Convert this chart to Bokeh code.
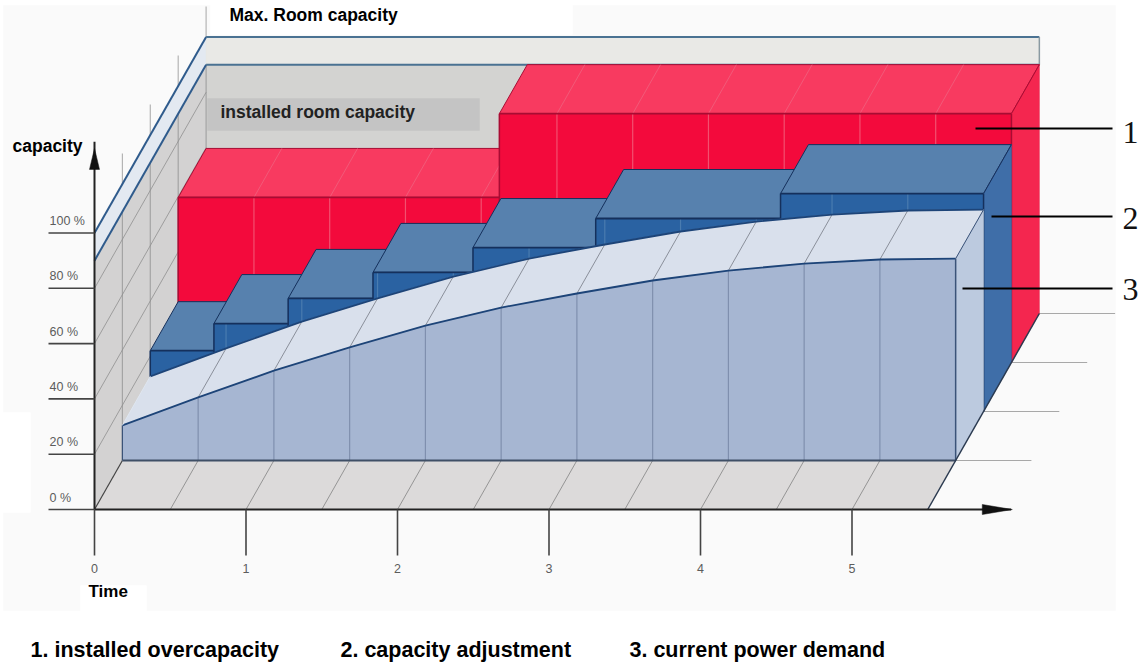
from bokeh.plotting import figure
from bokeh.models import Range1d
from bokeh.core.properties import value
from bokeh.embed import file_html
from bokeh.resources import INLINE

# ---- data ----
time_ticks = [0, 1, 2, 3, 4, 5]
capacity_ticks = [0, 20, 40, 60, 80, 100]
capacity_labels = ["0 %", "20 %", "40 %", "60 %", "80 %", "100 %"]
grid_times = [0, .5, 1, 1.5, 2, 2.5, 3, 3.5, 4, 4.5, 5, 5.5]
demand = [12.7, 22.8, 32.5, 40.9, 48.8, 55.3, 60.4, 65.1, 68.7, 71.2, 72.7, 73.0]
adjust_edges = [0, .42, .91, 1.47, 2.13, 2.94, 4.16, 5.5]
adjust_levels = [22, 31.8, 40.9, 50.3, 59.3, 69.8, 78.8]
installed_edges = [0, 2.12, 5.5]
installed_levels = [59.7, 90]
installed_room = 90
max_room = 100
t_end = 5.5

X0, Y0, KT, KD, KC, DY = 94, 509, 151.5, 27.9, 2.765, 49


def P(t, c, d):
    return X0 + KT * t + KD * d, Y0 - KC * c - DY * d


p = figure(width=1141, height=664, x_range=Range1d(0, 1141), y_range=Range1d(664, 0),
           toolbar_location=None, output_backend="svg", min_border=0,
           background_fill_color="white", border_fill_color="white", outline_line_color=None)
p.axis.visible = False
p.grid.visible = False


def poly(points, fill, line=None, lw=1, alpha=1.0):
    p.patch([a for a, _ in points], [b for _, b in points], fill_color=fill, fill_alpha=alpha,
            line_color=line if line else fill, line_width=lw if line else 0.5)


def seg(a, b, color, lw=1, alpha=1.0):
    p.line([a[0], b[0]], [a[1], b[1]], line_color=color, line_width=lw, line_alpha=alpha)


def txt(x, y, s, size, color="black", bold=True, align="left", font="Liberation Sans"):
    p.text([x], [y], text=[s], text_font=value(font), text_font_size=value(size),
           text_font_style="bold" if bold else "normal", text_color=color,
           text_align=align, text_baseline="middle")


# page-like backdrop of the scanned picture
poly([(3, 5), (1115, 5), (1115, 610), (3, 610)], "#fafafa")
poly([(210, 0), (572, 0), (572, 34), (210, 34)], "#ffffff")
poly([(80, 585), (146, 585), (146, 612), (80, 612)], "#ffffff")
poly([(0, 412), (30, 412), (30, 512), (0, 512)], "#ffffff")

# verticals rising from the depth lines
for d in [1, 2, 3, 4]:
    seg(P(0, 0, d), P(0, 111, d), "#b4b4b4", 1.2)

# side wall and back wall
poly([P(0, 0, 0), P(0, installed_room, 0), P(0, installed_room, 4), P(0, 0, 4)], "#d3d2d2")
poly([P(0, installed_room, 0), P(0, max_room, 0), P(0, max_room, 4), P(0, installed_room, 4)], "#e3e9f1")
poly([P(0, 0, 4), P(0, installed_room, 4), P(t_end, installed_room, 4), P(t_end, 0, 4)], "#d3d3d1")
poly([P(0, installed_room, 4), P(0, max_room, 4), P(t_end, max_room, 4), P(t_end, installed_room, 4)], "#e9e9e6")
poly([(207, 98), (479, 98), (479, 130), (207, 130)], "#c4c4c4")

for d in [1, 2, 3, 4]:
    seg(P(0, 0, d), P(0, installed_room, d), "#a4a4a4", 1.2)
for c in capacity_ticks[1:-1]:
    seg(P(0, c, 0), P(0, c, 4), "#8f8f8f", 0.8)

for c in [installed_room, max_room]:
    seg(P(0, c, 0), P(0, c, 4), "#2f5b8c", 2)
    seg(P(0, c, 4), P(t_end, c, 4), "#4a7292", 2)
seg(P(t_end, installed_room, 4), P(t_end, max_room, 4), "#8a9aa2", 1.5)

# floor
poly([P(0, 0, 0), P(t_end, 0, 0), P(t_end, 0, 1), P(0, 0, 1)], "#dcdada")
for t in grid_times[1:-1]:
    seg(P(t, 0, 0), P(t, 0, 1), "#8c8c8c", 0.9)
seg(P(0, 0, 0), P(0, 0, 1), "#444444", 1.2)
for d in [1, 2, 3, 4]:
    seg(P(t_end, 0, d), P(t_end + .5, 0, d), "#a8a8a8", 1.2)


def stairs(edges, levels, d, front, top, side, edge, gridc, topgrid=None):
    for i, lv in enumerate(levels):
        a, b = edges[i], edges[i + 1]
        poly([P(a, lv, d), P(b, lv, d), P(b, lv, d + 1), P(a, lv, d + 1)], top, edge, 1)
        if topgrid:
            for t in grid_times[1:-1]:
                if a < t < b:
                    seg(P(t, lv, d), P(t, lv, d + 1), topgrid, 0.8)
        poly([P(a, 0, d), P(a, lv, d), P(b, lv, d), P(b, 0, d)], front)
        for t in grid_times[1:-1]:
            if a < t < b:
                seg(P(t, 0, d), P(t, lv, d), gridc, 1.2)
        seg(P(a, 0, d), P(a, lv, d), edge, 1.5)
        seg(P(a, lv, d), P(b, lv, d), edge, 1.8)
    last = levels[-1]
    poly([P(t_end, 0, d), P(t_end, last, d), P(t_end, last, d + 1), P(t_end, 0, d + 1)], side)
    seg(P(t_end, 0, d), P(t_end, last, d), edge, 1.5)
    seg(P(t_end, last, d), P(t_end, last, d + 1), edge, 1)


stairs(installed_edges, installed_levels, 3, "#f30a3c", "#f83a60", "#f4264f", "#a80c33", "#f2506f", "#f0627f")
stairs(adjust_edges, adjust_levels, 2, "#2a62a2", "#5781ae", "#3f6ea8", "#15305c", "#4a7cb0")

# current power demand
front_pts = [P(t, c, 1) for t, c in zip(grid_times, demand)]
back_pts = [P(t, c, 2) for t, c in zip(grid_times, demand)]
poly(front_pts + back_pts[::-1], "#d9e0ec")
poly([P(0, 0, 1)] + front_pts + [P(t_end, 0, 1)], "#a6b6d2")
poly([P(t_end, 0, 1), P(t_end, demand[-1], 1), P(t_end, demand[-1], 2), P(t_end, 0, 2)], "#bccadf")
for t, c in zip(grid_times[1:-1], demand[1:-1]):
    seg(P(t, 0, 1), P(t, c, 1), "#7f8fae", 1.2)
    seg(P(t, c, 1), P(t, c, 2), "#8a8f9a", 1)
for pts in (front_pts, back_pts):
    p.line([a for a, _ in pts], [b for _, b in pts], line_color="#1d4478", line_width=1.8)
seg(P(0, demand[0], 1), P(0, demand[0], 2), "#dfe6f0", 1)
seg(P(0, 0, 1), P(0, demand[0], 1), "#3b5378", 1.2)
seg(P(0, 0, 1), P(t_end, 0, 1), "#3f4f66", 2)
seg(P(t_end, 0, 1), P(t_end, demand[-1], 1), "#3b5378", 1.5)
seg(P(t_end, demand[-1], 1), P(t_end, demand[-1], 2), "#3b5378", 1)
seg(P(t_end, 0, 0), P(t_end, 0, 4), "#2b3a50", 1.5)

# axes
seg(P(0, 0, 0), P(0, 133, 0), "#222222", 2)
seg(P(0, 0, 0), P(6.05, 0, 0), "#222222", 2)
ax, ay = P(0, 123, 0)
poly([(ax, ay - 21), (ax + 5, ay), (ax - 5, ay)], "#111111")
bx, by = P(5.86, 0, 0)
poly([(bx, by - 5), (bx + 30, by), (bx, by + 5)], "#111111")
for c, lab in zip(capacity_ticks, capacity_labels):
    x, y = P(0, c, 0)
    seg((x - 46, y), (x, y), "#444444", 1.6)
    txt(x - 45, y - 12, lab, "12.5px", "#5c5c5c", bold=False)
for t in time_ticks:
    x, y = P(t, 0, 0)
    seg((x, y), (x, y + 46), "#444444", 1.6)
    txt(x, y + 59, str(t), "12.5px", "#5c5c5c", bold=False, align="center")

# callouts
for xs, y, lab, by in [(975, 128, "1", 131.5), (991, 216, "2", 217.5), (962, 288, "3", 289)]:
    seg((xs, y), (1112, y), "#000000", 2)
    txt(1122, by, lab, "32px", "#111111", bold=False, font="Liberation Serif")

txt(229, 14, "Max. Room capacity", "17.5px")
txt(220, 111, "installed room capacity", "17.5px", "#222222")
txt(12, 145, "capacity", "17.5px")
txt(88, 591, "Time", "17px")
txt(30, 649, "1. installed overcapacity", "21.5px")
txt(340, 649, "2. capacity adjustment", "21.5px")
txt(629, 649, "3. current power demand", "21.5px")

open("out.html", "w").write(file_html(p, INLINE))
